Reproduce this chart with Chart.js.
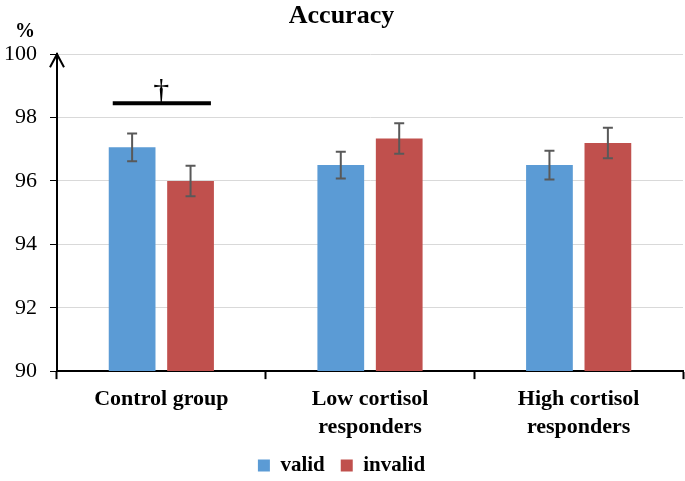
<!DOCTYPE html>
<html>
<head>
<meta charset="utf-8">
<script src="https://cdn.jsdelivr.net/npm/chart.js@4/dist/chart.umd.min.js"></script>
<style>
  html, body { margin: 0; padding: 0; background: #fff; }
  #wrap { width: 685px; height: 481px; }
</style>
</head>
<body>
<div id="wrap"><canvas id="accChart"></canvas></div>
<script>
var groups = [["Control group"], ["Low cortisol", "responders"], ["High cortisol", "responders"]]
var validValues = [97.06, 96.5, 96.5]
var invalidValues = [96.0, 97.34, 97.2]
var validErrors = [0.44, 0.42, 0.45]
var invalidErrors = [0.48, 0.48, 0.48]
var yTicks = [90, 92, 94, 96, 98, 100]
var sigMark = "†"
var sigLevel = 98.45

var serif = "'Liberation Serif', 'Times New Roman', serif"

var errorBars = {
    id: 'errorBars',
    afterDatasetsDraw: function(chart){
        var ctx = chart.ctx
        var y = chart.scales.y
        var errs = [validErrors, invalidErrors]
        ctx.save()
        ctx.strokeStyle = "#595959"
        ctx.lineWidth = 2
        chart.data.datasets.forEach(function(ds, d){
            var meta = chart.getDatasetMeta(d)
            meta.data.forEach(function(bar, i){
                var v = ds.data[i]
                var top = y.getPixelForValue(v + errs[d][i])
                var bot = y.getPixelForValue(v - errs[d][i])
                ctx.beginPath()
                ctx.moveTo(bar.x, top); ctx.lineTo(bar.x, bot)
                ctx.moveTo(bar.x - 5, top); ctx.lineTo(bar.x + 5, top)
                ctx.moveTo(bar.x - 5, bot); ctx.lineTo(bar.x + 5, bot)
                ctx.stroke()
            })
        })
        // significance line over control group
        var b0 = chart.getDatasetMeta(0).data[0]
        var b1 = chart.getDatasetMeta(1).data[0]
        var sy = y.getPixelForValue(sigLevel)
        ctx.strokeStyle = "#000"
        ctx.lineWidth = 4
        ctx.beginPath()
        ctx.moveTo(b0.x - b0.width / 2 + 4, sy)
        ctx.lineTo(b1.x + b1.width / 2 - 3, sy)
        ctx.stroke()
        ctx.fillStyle = "#000"
        ctx.font = "32px " + serif
        ctx.textAlign = "center"
        ctx.textBaseline = "bottom"
        ctx.fillText(sigMark, (b0.x + b1.x) / 2, sy + 5)

        // arrow on y axis and % label
        var a = chart.chartArea
        ctx.lineWidth = 2
        ctx.beginPath()
        ctx.moveTo(a.left - 7, a.top + 13)
        ctx.lineTo(a.left, a.top)
        ctx.lineTo(a.left + 7, a.top + 13)
        ctx.stroke()
        ctx.font = "bold 20px " + serif
        ctx.textBaseline = "alphabetic"
        ctx.fillText("%", 25, a.top - 17)
        ctx.restore()
    }
}

var ctx = document.getElementById("accChart").getContext('2d')
var myChart = new Chart(ctx, {
    type: 'bar',
    data: {
        labels: groups,
        datasets: [{
            label: "valid",
            data: validValues,
            backgroundColor: "#5b9bd5",
            borderColor: "#5b9bd5"
        }, {
            label: "invalid",
            data: invalidValues,
            backgroundColor: "#c0504d",
            borderColor: "#c0504d"
        }]
    },
    options: {
        responsive: true,
        maintainAspectRatio: false,
        animation: false,
        categoryPercentage: 0.56,
        barPercentage: 0.8,
        layout: { padding: { left: 0, right: 2, top: 0, bottom: -5 } },
        plugins: {
            title: {
                display: true,
                text: "Accuracy",
                color: "#000",
                font: { family: serif, size: 26, weight: 'bold' },
                padding: { top: 1, bottom: 22 }
            },
            legend: {
                position: 'bottom',
                labels: {
                    color: "#000",
                    boxWidth: 12,
                    boxHeight: 12,
                    font: { family: serif, size: 21, weight: 'bold' },
                    padding: 16
                }
            },
            tooltip: { enabled: false }
        },
        scales: {
            x: {
                offset: true,
                afterFit: function(scale){ scale.height -= 8 },
                border: { color: "#000", width: 2 },
                grid: {
                    offset: true,
                    drawOnChartArea: false,
                    drawTicks: true,
                    tickLength: 8,
                    tickColor: "#000",
                    tickWidth: 2
                },
                ticks: {
                    color: "#000",
                    font: { family: serif, size: 22, weight: 'bold', lineHeight: 1.27 },
                    padding: 6
                }
            },
            y: {
                min: 90,
                max: 100,
                afterFit: function(scale){ scale.width = 57 },
                afterBuildTicks: function(scale){
                    scale.ticks = yTicks.map(function(v){ return { value: v } })
                },
                border: { color: "#000", width: 2 },
                grid: {
                    color: "#d9d9d9",
                    lineWidth: 1,
                    drawTicks: true,
                    tickLength: 7,
                    tickColor: "#000"
                },
                ticks: {
                    color: "#000",
                    font: { family: serif, size: 22 },
                    padding: 13
                }
            }
        }
    },
    plugins: [errorBars]
})
</script>
</body>
</html>
